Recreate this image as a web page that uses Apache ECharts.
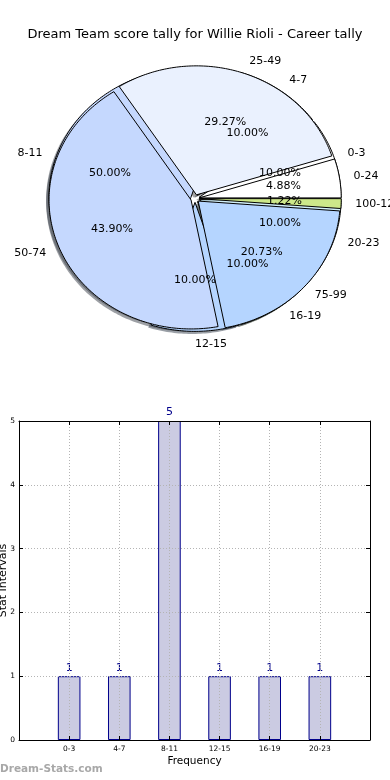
<!DOCTYPE html>
<html><head><meta charset="utf-8">
<script src="https://cdn.jsdelivr.net/npm/echarts@6/dist/echarts.min.js"></script>
<style>html,body{margin:0;padding:0;background:#fff}#c{width:390px;height:780px}</style>
</head><body><div id="c"></div>
<script>
const chartTitle = 'Dream Team score tally for Willie Rioli - Career tally';
const statCats = ['0-3','4-7','8-11','12-15','16-19','20-23'];
const statCounts = [1,1,5,1,1,1];
const scoreCats = ['0-24','25-49','50-74','75-99','100-124'];
const scoreCounts = [4,24,36,17,1];
const yTickValues = [0,1,2,3,4,5];

const palette = ['#ffffff','#eaf1fe','#c5d8fe','#b5d5ff','#cde88a','#d2f0fa'];
const EXPLODE = 0.03;
const FONT = 'DejaVu Sans';

function buildWedges(counts, cats) {
  const total = counts.reduce((a,b)=>a+b,0);
  let acc = 0;
  return counts.map((v,i)=>{
    const t1 = acc/total*360; acc += v; const t2 = acc/total*360;
    return {name: cats[i], t1, t2, pct: (v/total*100).toFixed(2)+'%', color: palette[i % palette.length]};
  });
}
const statW = buildWedges(statCounts, statCats);
const scoreW = buildWedges(scoreCounts, scoreCats);

function shadowColor(hex){
  const r=parseInt(hex.substr(1,2),16),g=parseInt(hex.substr(3,2),16),b=parseInt(hex.substr(5,2),16);
  return 'rgba('+Math.round(r*0.3)+','+Math.round(g*0.3)+','+Math.round(b*0.3)+',0.5)';
}
function wedgeGeom(w){
  const mid=(w.t1+w.t2)/2*Math.PI/180;
  return {mid, cx: EXPLODE*Math.cos(mid), cy: EXPLODE*Math.sin(mid)};
}
function wedgePoints(api, w, dx, dy){
  const g=wedgeGeom(w);
  const cx=g.cx+dx, cy=g.cy+dy;
  const pts=[api.coord([cx,cy])];
  const n=Math.max(2,Math.ceil(w.t2-w.t1));
  for(let k=0;k<=n;k++){
    const a=(w.t1+(w.t2-w.t1)*k/n)*Math.PI/180;
    pts.push(api.coord([cx+Math.cos(a),cy+Math.sin(a)]));
  }
  return pts;
}
function wedgeSeries(list, z, shadow){
  return {
    type:'custom', coordinateSystem:'cartesian2d', xAxisIndex:0, yAxisIndex:0, z:z, clip:false, silent:true,
    data: list.map((w,i)=>[i,0]),
    renderItem:function(params, api){
      const w=list[params.dataIndex];
      if(shadow){
        return {type:'polygon', shape:{points:wedgePoints(api,w,-0.02,-0.02)}, style:{fill:shadowColor(w.color), stroke:null}};
      }
      return {type:'polygon', shape:{points:wedgePoints(api,w,0,0)}, style:{fill:w.color, stroke:'#000', lineWidth:1}};
    }
  };
}
function labelSeries(list, z){
  return {
    type:'custom', coordinateSystem:'cartesian2d', xAxisIndex:0, yAxisIndex:0, z:z, clip:false, silent:true,
    data: list.map((w,i)=>[i,0]),
    renderItem:function(params, api){
      const w=list[params.dataIndex];
      const g=wedgeGeom(w);
      const lx=g.cx+1.1*Math.cos(g.mid), ly=g.cy+1.1*Math.sin(g.mid);
      const px=g.cx+0.6*Math.cos(g.mid), py=g.cy+0.6*Math.sin(g.mid);
      const lp=api.coord([lx,ly]), pp=api.coord([px,py]);
      return {type:'group', children:[
        {type:'text', x:lp[0], y:lp[1], style:{text:w.name, align: lx>=-1e-6?'left':'right', verticalAlign:'middle', font:'11px "'+FONT+'"', fill:'#000'}},
        {type:'text', x:pp[0], y:pp[1], style:{text:w.pct, align:'center', verticalAlign:'middle', font:'11px "'+FONT+'"', fill:'#000'}}
      ]};
    }
  };
}

const chart = echarts.init(document.getElementById('c'), null, {renderer:'canvas'});
const PR = 1.35;
const option = {
  animation:false,
  backgroundColor:'#fff',
  title:{text:chartTitle, left:'center', top:23, textStyle:{fontFamily:FONT, fontSize:13, fontWeight:'normal', color:'#000'}},
  grid:[
    {left:195-PR*142, width:2*PR*142, top:198.5-PR*129, height:2*PR*129, show:false, containLabel:false, outerBoundsMode:'none'},
    {left:19, top:421, width:351, height:319, show:false, containLabel:false, outerBoundsMode:'none'}
  ],
  xAxis:[
    {gridIndex:0, type:'value', min:-PR, max:PR, show:false},
    {gridIndex:1, type:'value', min:-1, max:6, interval:1, z:5,
      axisLine:{show:true, onZero:false, lineStyle:{color:'#000', width:1}},
      axisTick:{show:true, inside:true, length:4, lineStyle:{color:'#000'}},
      axisLabel:{fontFamily:FONT, fontSize:7.5, color:'#000', margin:5, formatter:function(v){return statCats[v]!==undefined?statCats[v]:'';}},
      splitLine:{show:true, lineStyle:{color:'#b4b4b4', type:[1,2], width:1}},
      name:'Frequency', nameLocation:'middle', nameGap:16, nameMoveOverlap:false, nameTextStyle:{fontFamily:FONT, fontSize:10.5, color:'#000'}},
    {gridIndex:1, type:'value', min:-1, max:6, interval:1, position:'top', z:5,
      axisLine:{show:true, onZero:false, lineStyle:{color:'#000', width:1}},
      axisTick:{show:true, inside:true, length:4, lineStyle:{color:'#000'}},
      axisLabel:{show:false}, splitLine:{show:false}}
  ],
  yAxis:[
    {gridIndex:0, type:'value', min:-PR, max:PR, show:false},
    {gridIndex:1, type:'value', min:yTickValues[0], max:yTickValues[yTickValues.length-1], interval:1, z:5,
      axisLine:{show:true, onZero:false, lineStyle:{color:'#000', width:1}},
      axisTick:{show:true, inside:true, length:4, lineStyle:{color:'#000'}},
      axisLabel:{fontFamily:FONT, fontSize:7.5, color:'#000', margin:4},
      splitLine:{show:true, lineStyle:{color:'#b4b4b4', type:[1,2], width:1}},
      name:'Stat Intervals', nameLocation:'middle', nameGap:10, nameMoveOverlap:false, nameTextStyle:{fontFamily:FONT, fontSize:11, color:'#000'}},
    {gridIndex:1, type:'value', min:yTickValues[0], max:yTickValues[yTickValues.length-1], interval:1, position:'right', z:5,
      axisLine:{show:true, onZero:false, lineStyle:{color:'#000', width:1}},
      axisTick:{show:true, inside:true, length:4, lineStyle:{color:'#000'}},
      axisLabel:{show:false}, splitLine:{show:false}}
  ],
  series:[
    wedgeSeries(statW, 1, true),
    wedgeSeries(scoreW, 1, true),
    wedgeSeries(statW, 2, false),
    wedgeSeries(scoreW, 3, false),
    labelSeries(statW, 4),
    labelSeries(scoreW, 4),
    {type:'bar', xAxisIndex:1, yAxisIndex:1, barWidth:22.6, z:2,
      data: statCounts.map((v,i)=>[i,v]),
      itemStyle:{color:'#cbcbe2', borderColor:'#00008b', borderWidth:1},
      label:{show:true, position:'top', distance:3, fontFamily:FONT, fontSize:11, color:'#00008b', formatter:function(p){return p.value[1];}}}
  ],
  graphic:[
    {type:'text', left:0, top:764, style:{text:'Dream-Stats.com', font:'bold 10.5px "'+FONT+'"', fill:'#a8a8a8'}}
  ]
};
chart.setOption(option);
</script></body></html>
